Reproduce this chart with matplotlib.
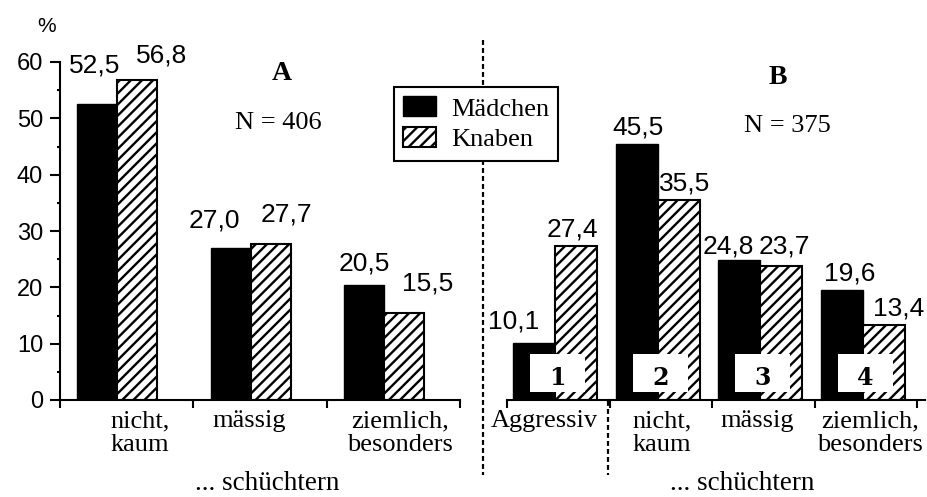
import matplotlib
matplotlib.use('Agg')
import matplotlib.pyplot as plt
from matplotlib.lines import Line2D
from matplotlib.patches import Rectangle

# A: all children, how shy
cats_a = ['nicht,\nkaum', 'mässig', 'ziemlich,\nbesonders']
maedchen_a = [52.5, 27.0, 20.5]
knaben_a = [56.8, 27.7, 15.5]

# B: aggressive children, and how shy they are
cats_b = ['Aggressiv', 'nicht,\nkaum', 'mässig', 'ziemlich,\nbesonders']
maedchen_b = [10.1, 45.5, 24.8, 19.6]
knaben_b = [27.4, 35.5, 23.7, 13.4]
box_nums = ['1', '2', '3', '4']

yticks = [0, 10, 20, 30, 40, 50, 60]
series = ['Mädchen', 'Knaben']

# layout (value label offsets from bar centre/top, category label x)
lab_off_a_m = [(-0.02, 6.8), (-0.12, 4.8), (0.0, 3.8)]
lab_off_a_k = [(0.18, 4.3), (0.12, 5.3), (0.18, 5.1)]
lab_off_b_m = [(-0.2, 3.75), (0.01, 2.8), (-0.11, 2.5), (0.08, 2.9)]
lab_off_b_k = [(-0.04, 2.8), (0.06, 3.0), (0.03, 3.5), (0.15, 2.8)]
catx_a = [0.6, 1.42, 2.55]
catx_b = [0.36, 1.51, 2.44, 3.54]

W, H = 927, 497
plt.rcParams['hatch.linewidth'] = 1.7
SERIF = 'Liberation Serif'
SANS = 'Liberation Sans'

fig = plt.figure(figsize=(W / 100, H / 100), dpi=100)


def px_axes(x0, y0, x1, y1):
    return fig.add_axes([x0 / W, 1 - y1 / H, (x1 - x0) / W, (y1 - y0) / H])


def fig_text(x, y, s, **kw):
    fig.text(x / W, 1 - y / H, s, **kw)


def fmt(v):
    return ('%.1f' % v).replace('.', ',')


ax_a = px_axes(60, 62, 460, 400)
ax_b = px_axes(507, 62, 925, 400)

bw_a, off_a = 0.30, 0.13
bw_b, off_b = 0.41, 0.06

xa = [i + off_a for i in range(len(cats_a))]
xb = [i + off_b for i in range(len(cats_b))]

bm = ax_a.bar(xa, maedchen_a, bw_a, align='edge', color='black', edgecolor='black', lw=1)
bk = ax_a.bar([x + bw_a for x in xa], knaben_a, bw_a, align='edge', color='white',
              edgecolor='black', hatch='///', lw=1.5)
ax_b.bar(xb, maedchen_b, bw_b, align='edge', color='black', edgecolor='black', lw=1)
ax_b.bar([x + bw_b for x in xb], knaben_b, bw_b, align='edge', color='white',
         edgecolor='black', hatch='///', lw=1.5)

# value labels
for ax, xs, bw, vals, offs, shift in [
        (ax_a, xa, bw_a, maedchen_a, lab_off_a_m, 0.5),
        (ax_a, xa, bw_a, knaben_a, lab_off_a_k, 1.5),
        (ax_b, xb, bw_b, maedchen_b, lab_off_b_m, 0.5),
        (ax_b, xb, bw_b, knaben_b, lab_off_b_k, 1.5)]:
    for x, v, (dx, dy) in zip(xs, vals, offs):
        ax.text(x + bw * shift + dx, v + dy, fmt(v), ha='center', va='center',
                fontsize=19, family=SANS, clip_on=False)

# numbered boxes in B
for x, n in zip(xb, box_nums):
    ax_b.add_patch(Rectangle((x + 0.165, 1.4), 0.54, 6.8, facecolor='white',
                             edgecolor='none', zorder=3))
    ax_b.text(x + 0.165 + 0.27, 2.66, n, ha='center', va='baseline', fontsize=17,
              family='DejaVu Serif', weight='bold', zorder=4)

for ax, n in [(ax_a, 3), (ax_b, 4)]:
    ax.set_ylim(0, 60)
    ax.set_xlim(0, 3 if n == 3 else 418 / 102.5)
    ax.set_xticks(range(n + 1))
    ax.set_xticklabels([])
    for s in ['top', 'right']:
        ax.spines[s].set_visible(False)
    ax.spines['bottom'].set_linewidth(1.5)
    ax.tick_params(axis='x', direction='out', length=5.5, width=1.5)

ax_a.spines['left'].set_linewidth(1.5)
ax_a.set_yticks(yticks)
ax_a.set_yticks([y + 5 for y in yticks[:-1]], minor=True)
ax_a.tick_params(axis='y', which='major', length=7.2, width=1.5, pad=5,
                 labelsize=17, labelfontfamily=SANS)
ax_a.tick_params(axis='y', which='minor', length=2.4, width=1.5)
ax_b.spines['left'].set_visible(False)
ax_b.set_yticks([])

# category labels
for ax, cats, cx in [(ax_a, cats_a, catx_a), (ax_b, cats_b, catx_b)]:
    for x, c in zip(cx, cats):
        ax.annotate(c, (x, 0), xytext=(0, -10), textcoords='offset pixels',
                    ha='center', va='top', fontsize=19, family=SERIF,
                    linespacing=1.12, annotation_clip=False)

fig_text(47, 27, '%', ha='center', va='center', fontsize=15, family=SANS)
fig_text(282, 73, 'A', ha='center', va='center', fontsize=20, family=SERIF, weight='bold')
fig_text(278, 123, 'N = 406', ha='center', va='center', fontsize=19, family=SERIF)
fig_text(778, 77, 'B', ha='center', va='center', fontsize=20, family=SERIF, weight='bold')
fig_text(787, 126, 'N = 375', ha='center', va='center', fontsize=19, family=SERIF)
fig_text(267, 490, '... schüchtern', ha='center', va='baseline', fontsize=19.5, family=SERIF)
fig_text(742, 490, '... schüchtern', ha='center', va='baseline', fontsize=19.5, family=SERIF)

# dotted separators
for x, y0, y1 in [(483, 40, 475), (608, 145, 475)]:
    fig.add_artist(Line2D([x / W, x / W], [1 - y0 / H, 1 - y1 / H], transform=fig.transFigure,
                          color='black', lw=1.6, dashes=(2.2, 1.4), zorder=0))

leg = fig.legend([bm, bk], series, loc='upper left', bbox_to_anchor=(394 / W, 1 - 87 / H),
                 borderaxespad=0, frameon=True, fancybox=False, edgecolor='black',
                 framealpha=1, prop={'family': SERIF, 'size': 19}, handlelength=1.25,
                 handleheight=0.8, handletextpad=0.55, labelspacing=0.25, borderpad=0.35)
leg.get_frame().set_linewidth(1.5)
leg.set_zorder(10)

fig.savefig('out.png', dpi=100)
